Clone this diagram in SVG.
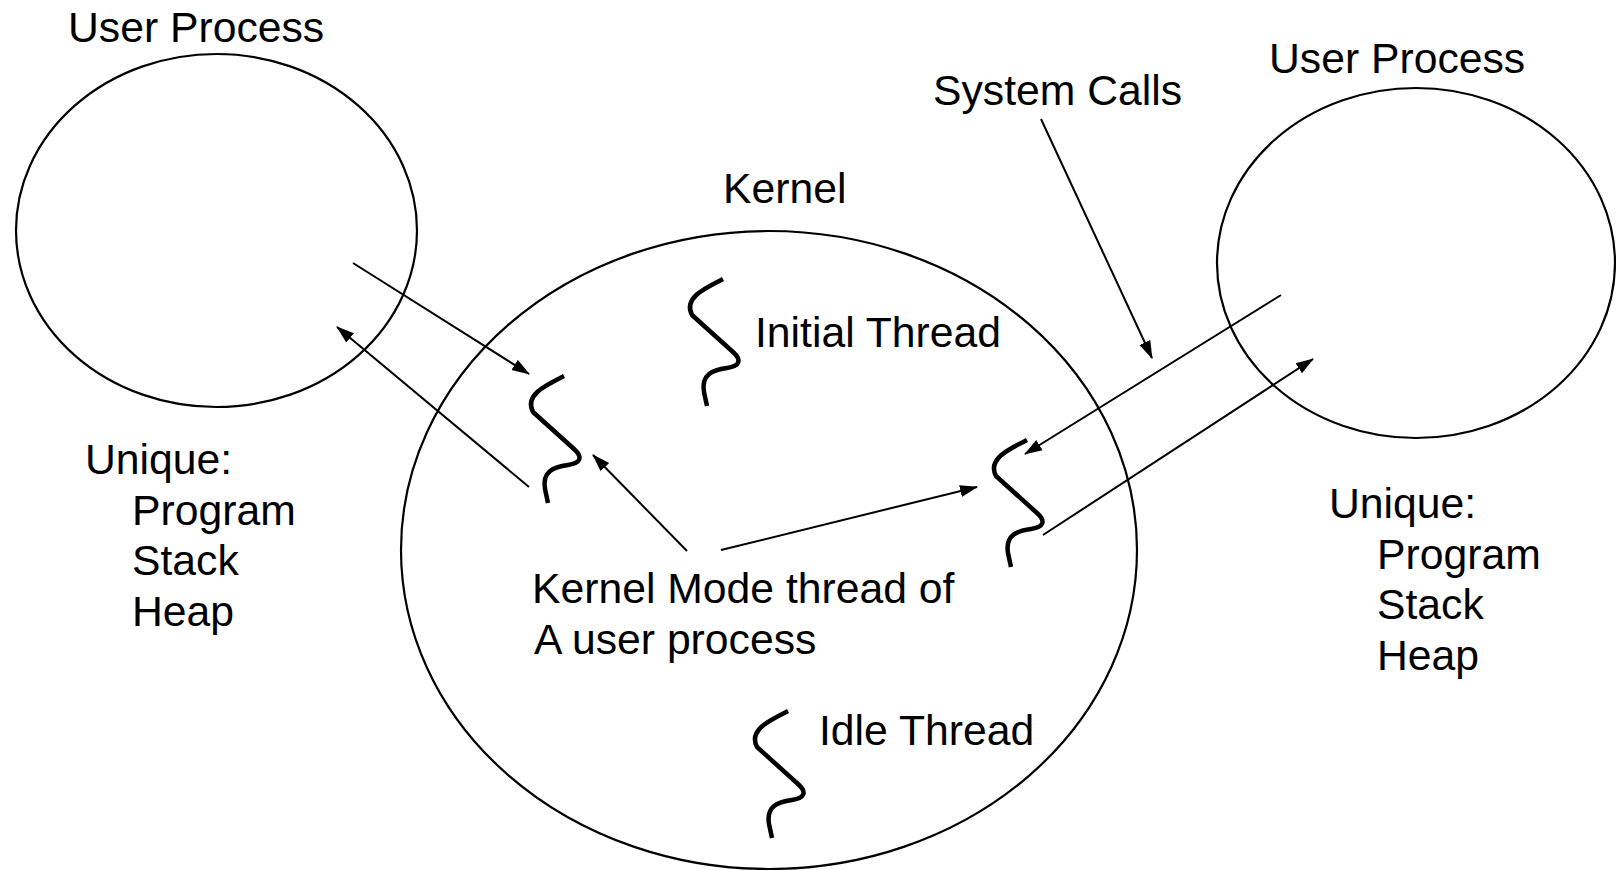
<svg xmlns="http://www.w3.org/2000/svg" width="1616" height="870" viewBox="0 0 1616 870">
<style>
  .lbl { font-family: "Liberation Sans", Arial, sans-serif; font-size: 42.7px; fill: #000; }
  .shape { fill: none; stroke: #000; stroke-width: 2.2; }
  .conn { fill: none; stroke: #000; stroke-width: 2; marker-end: url(#arrow); }
  .thread { fill: none; stroke: #000; stroke-width: 4.5; stroke-linecap: butt; stroke-linejoin: round; }
</style>
<defs>
  <marker id="arrow" markerUnits="userSpaceOnUse" markerWidth="18" markerHeight="14" viewBox="0 0 18 14" refX="17" refY="7" orient="auto">
    <path d="M0,1 L18,7 L0,13 Z" fill="#000"/>
  </marker>
  <path id="squiggle" d="M0,0 C-18,9 -40,19 -31,36 L10,73 C19,81 17,87 4,89 C-10,91 -22,95 -19,113 L-16,127"/>
</defs>
<rect width="1616" height="870" fill="#fff"/>

<g id="user-process-left">
  <ellipse class="shape" cx="216.5" cy="230.5" rx="200.5" ry="176.5"/>
  <text class="lbl" x="68" y="42">User Process</text>
  <text class="lbl" x="85" y="474">Unique:</text>
  <text class="lbl" x="132" y="524.5">Program</text>
  <text class="lbl" x="132" y="575">Stack</text>
  <text class="lbl" x="132" y="625.5">Heap</text>
</g>

<g id="user-process-right">
  <ellipse class="shape" cx="1416" cy="263" rx="199" ry="175"/>
  <text class="lbl" x="1269" y="73">User Process</text>
  <text class="lbl" x="1329" y="518">Unique:</text>
  <text class="lbl" x="1377" y="568.5">Program</text>
  <text class="lbl" x="1377" y="619">Stack</text>
  <text class="lbl" x="1377" y="669.5">Heap</text>
</g>

<g id="kernel">
  <ellipse class="shape" cx="769" cy="550" rx="368" ry="319"/>
  <text class="lbl" x="723" y="203">Kernel</text>
</g>

<g id="initial-thread">
  <use href="#squiggle" class="thread" transform="translate(723,279)"/>
  <text class="lbl" x="755" y="347">Initial Thread</text>
</g>

<g id="kernel-thread-left">
  <use href="#squiggle" class="thread" transform="translate(564,376)"/>
</g>

<g id="kernel-thread-right">
  <use href="#squiggle" class="thread" transform="translate(1027,440)"/>
</g>

<g id="kernel-mode-label">
  <text class="lbl" x="532" y="603">Kernel Mode thread of</text>
  <text class="lbl" x="534" y="654">A user process</text>
</g>

<g id="idle-thread">
  <use href="#squiggle" class="thread" transform="translate(788,711)"/>
  <text class="lbl" x="819" y="745">Idle Thread</text>
</g>

<g id="system-calls">
  <text class="lbl" x="933" y="105">System Calls</text>
</g>

<g id="connectors">
  <line class="conn" x1="353" y1="263" x2="529" y2="374"/>
  <line class="conn" x1="529" y1="487" x2="337" y2="327"/>
  <line class="conn" x1="687" y1="551" x2="593" y2="455"/>
  <line class="conn" x1="721" y1="550" x2="977" y2="487"/>
  <line class="conn" x1="1041" y1="119" x2="1152" y2="358"/>
  <line class="conn" x1="1281" y1="295" x2="1025" y2="454"/>
  <line class="conn" x1="1043" y1="535" x2="1313" y2="359"/>
</g>
</svg>
